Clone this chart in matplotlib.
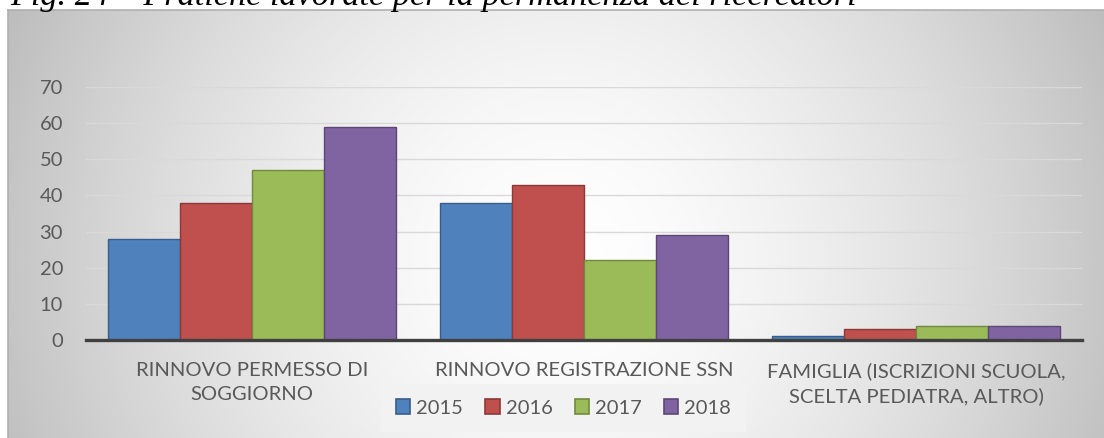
import numpy as np
import matplotlib
matplotlib.use("Agg")
import matplotlib.pyplot as plt
from matplotlib.patches import Patch

categories = ["RINNOVO PERMESSO DI\nSOGGIORNO", "RINNOVO REGISTRAZIONE SSN",
              "FAMIGLIA (ISCRIZIONI SCUOLA,\nSCELTA PEDIATRA, ALTRO)"]
series_names = ["2015", "2016", "2017", "2018"]
v2015 = [28, 38, 1]
v2016 = [38, 43, 3]
v2017 = [47, 22, 4]
v2018 = [59, 29, 4]
values = [v2015, v2016, v2017, v2018]
yticks = [0, 10, 20, 30, 40, 50, 60, 70]
title = "Fig. 24 \u2013 Pratiche lavorate per la permanenza dei ricercatori"

colors = ["#4f81bd", "#c0504d", "#9bbb59", "#8064a2"]
edges = ["#385d8a", "#8c3836", "#71893f", "#5c4776"]

W, H = 1104, 438
fig = plt.figure(figsize=(W / 100, H / 100), dpi=100)
fig.patch.set_facecolor("white")

def fx(px):
    return px / W

def fy(py):
    return 1 - py / H

# Background frame with radial gradient
fl, ft, fr, fb = 8, 10, 1104, 438
bg = fig.add_axes([fx(fl), fy(fb), fx(fr - fl), (fb - ft) / H], zorder=0)
xx, yy = np.meshgrid(np.arange(fl, fr), np.arange(ft, fb))
cx, cy = 560, 260
d = np.sqrt((xx - cx) ** 2 + (yy - cy) ** 2) / 602.0
g = 255 - 66 * np.clip(d, 0, 1) ** 1.6
img = np.dstack([g, g, g]).astype(np.uint8)
bg.imshow(img, aspect="auto", extent=[0, 1, 0, 1], interpolation="bilinear")
bg.set_xlim(0, 1)
bg.set_ylim(0, 1)
bg.set_xticks([])
bg.set_yticks([])
for s in bg.spines.values():
    s.set_edgecolor("#b0b0b0")
    s.set_linewidth(1.2)
bg.spines["right"].set_visible(False)
bg.spines["bottom"].set_visible(False)

# Title (cut off at the top, as in the source)
fig.text(fx(10), fy(4.5), title, family="Liberation Serif", style="italic",
         fontsize=24.7, color="black", ha="left", va="baseline")

# Main axes
al, ar, at, ab = 86, 1082, 87, 340
ax = fig.add_axes([fx(al), fy(ab), fx(ar - al), (ab - at) / H], zorder=2)
ax.patch.set_alpha(0)
x = np.arange(len(categories))
bw = 0.217
for i, (vals, c, e, name) in enumerate(zip(values, colors, edges, series_names)):
    ax.bar(x + (i - 1.5) * bw, vals, width=bw, color=c, edgecolor=e,
           linewidth=1.0, label=name, zorder=3)
ax.set_xlim(-0.5, 2.5)
ax.set_ylim(0, 70)
ax.set_yticks(yticks)
ax.set_yticklabels([str(t) for t in yticks], family="Lato", fontsize=14.5, color="#595959")
ax.set_xticks(x)
ax.set_xticklabels(categories, family="Lato", fontsize=14.6, color="#595959",
                   linespacing=1.45)
ax.tick_params(axis="both", length=0)
ax.tick_params(axis="y", pad=16.5)
ax.tick_params(axis="x", pad=16)
for t in yticks[1:]:
    ax.axhline(t, color="#d9d9d9", lw=1.0, zorder=1)
for s in ["top", "right", "left"]:
    ax.spines[s].set_visible(False)
ax.spines["bottom"].set_color("#404040")
ax.spines["bottom"].set_linewidth(2.4)
ax.spines["bottom"].set_zorder(4)

handles = [Patch(facecolor=c, edgecolor=e, linewidth=1.2) for c, e in zip(colors, edges)]
leg = fig.legend(handles, series_names, loc="center", bbox_to_anchor=(fx(563.5), fy(408)),
                 ncol=4, frameon=True, fancybox=False, handlelength=0.7, handleheight=0.7,
                 handletextpad=0.3, columnspacing=1.1, borderpad=0.75,
                 prop={"family": "Lato", "size": 14.5})
leg.get_frame().set_facecolor("#f2f2f2")
leg.get_frame().set_edgecolor("none")
leg.get_frame().set_alpha(1)
for t in leg.get_texts():
    t.set_color("#595959")
leg.set_zorder(5)

fig.savefig("out.png", dpi=100, facecolor=fig.get_facecolor())
